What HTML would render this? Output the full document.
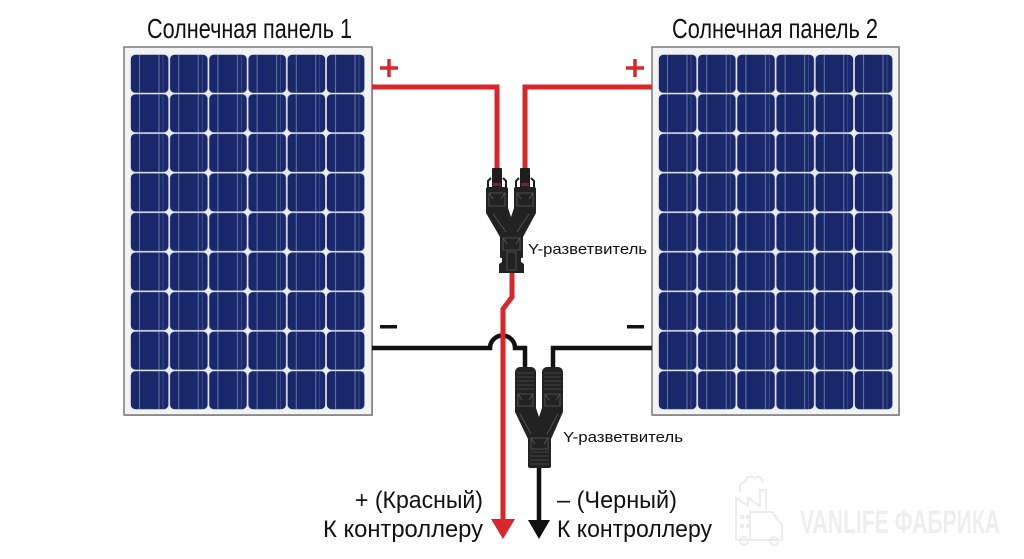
<!DOCTYPE html>
<html><head><meta charset="utf-8"><style>
html,body{margin:0;padding:0;background:#fff;}
svg{display:block;}
text{font-family:"Liberation Sans","DejaVu Sans",sans-serif;}
</style></head><body>
<svg width="1024" height="559" viewBox="0 0 1024 559" xmlns="http://www.w3.org/2000/svg">
<defs>
<pattern id="c1" patternUnits="userSpaceOnUse" x="130" y="54" width="39.2" height="39.55">
 <rect x="0.8" y="0.8" width="37.6" height="37.95" rx="4.5" fill="#19286a"/>
 <line x1="9.5" y1="1" x2="9.5" y2="38.5" stroke="#6f7fb3" stroke-width="0.9"/>
 <line x1="29" y1="1" x2="29" y2="38.5" stroke="#6f7fb3" stroke-width="0.9"/>
 <line x1="33" y1="1" x2="33" y2="38.5" stroke="#4e5f98" stroke-width="0.6"/>
</pattern>
<pattern id="c2" patternUnits="userSpaceOnUse" x="658" y="54" width="39.2" height="39.55">
 <rect x="0.8" y="0.8" width="37.6" height="37.95" rx="4.5" fill="#19286a"/>
 <line x1="9.5" y1="1" x2="9.5" y2="38.5" stroke="#6f7fb3" stroke-width="0.9"/>
 <line x1="29" y1="1" x2="29" y2="38.5" stroke="#6f7fb3" stroke-width="0.9"/>
 <line x1="33" y1="1" x2="33" y2="38.5" stroke="#4e5f98" stroke-width="0.6"/>
</pattern>
</defs>

<!-- watermark -->
<g fill="none" stroke="#ececec" stroke-width="2">
 <path d="M736,520 L736,498 L748,506 L748,498 L760,506 L760,490 L766,490 L766,510"/>
 <path d="M741,492 q-4,-8 4,-10 q2,-8 10,-4 q6,-4 8,4"/>
 <path d="M736,520 L736,540 L782,540 L782,525 L772,512 L750,512 L750,540"/>
 <circle cx="744" cy="541" r="4"/><circle cx="774" cy="541" r="4"/>
</g>
<g fill="#ececec">
 <rect x="740" y="515" width="4" height="4"/><rect x="746" y="515" width="4" height="4"/>
 <rect x="740" y="524" width="4" height="4"/><rect x="746" y="524" width="4" height="4"/>
</g>
<text x="800" y="533" font-size="32" font-weight="bold" fill="#eeeeee" textLength="200" lengthAdjust="spacingAndGlyphs">VANLIFE ФАБРИКА</text>

<!-- titles -->
<text x="147" y="38" font-size="28" fill="#111" textLength="205" lengthAdjust="spacingAndGlyphs">Солнечная панель 1</text>
<text x="672" y="38" font-size="28" fill="#111" textLength="206" lengthAdjust="spacingAndGlyphs">Солнечная панель 2</text>

<!-- panel 1 -->
<rect x="125" y="48" width="248" height="368" fill="#bdbdbd"/>
<rect x="124" y="47" width="248" height="368" fill="#f3f3f3" stroke="#7a7a7a" stroke-width="1.5"/>
<rect x="130" y="54" width="235.2" height="356" fill="#e9ecf3"/>
<rect x="130" y="54" width="235.2" height="356" fill="url(#c1)"/>

<!-- panel 2 -->
<rect x="653" y="48" width="247" height="368" fill="#bdbdbd"/>
<rect x="652" y="47" width="247" height="368" fill="#f3f3f3" stroke="#7a7a7a" stroke-width="1.5"/>
<rect x="658" y="54" width="235.2" height="356" fill="#e9ecf3"/>
<rect x="658" y="54" width="235.2" height="356" fill="url(#c2)"/>

<!-- plus / minus signs -->
<g stroke="#d9262b" stroke-width="3.5">
 <line x1="380" y1="68" x2="398" y2="68"/><line x1="389" y1="59" x2="389" y2="77"/>
 <line x1="626" y1="68" x2="644" y2="68"/><line x1="635" y1="59" x2="635" y2="77"/>
</g>
<g fill="#111">
 <rect x="380" y="325" width="17" height="3.5"/>
 <rect x="627" y="325" width="17" height="3.5"/>
</g>

<!-- red wires top -->
<g fill="none" stroke="#d9262b" stroke-width="5" stroke-linejoin="miter">
 <path d="M372,87 L497,87 L497,172"/>
 <path d="M652,87 L525,87 L525,172"/>
</g>

<!-- black wires -->
<g fill="none" stroke="#111" stroke-width="4.5" stroke-linejoin="miter">
 <path d="M372,348 L490,348 A12.5,12.5 0 0 1 515,348 L525,348 L525,372"/>
 <path d="M652,348 L553,348 L553,372"/>
 <path d="M539,464 L539,524"/>
</g>
<polygon points="528,520 550,520 539,539" fill="#111"/>

<!-- red wire down -->
<path d="M512,272 L512,297 L503,309 L503,524" fill="none" stroke="#d9262b" stroke-width="5" stroke-linejoin="miter"/>
<polygon points="491,519 515,519 503,539" fill="#d9262b"/>

<!-- top Y connector -->
<g>
 <rect x="492" y="168" width="10" height="21" rx="1" fill="#1d1d1d"/>
 <rect x="520" y="168" width="10" height="21" rx="1" fill="#1d1d1d"/>
 <rect x="493" y="183" width="8" height="3" fill="#8a1f22"/>
 <rect x="521" y="183" width="8" height="3" fill="#8a1f22"/>
 <g fill="none" stroke="#1d1d1d" stroke-width="2">
  <path d="M488,193 L488,181 L491,178"/><path d="M506,193 L506,181 L503,178"/>
  <path d="M516,193 L516,181 L519,178"/><path d="M534,193 L534,181 L531,178"/>
 </g>
 <rect x="486" y="187" width="22" height="24" rx="2" fill="#222"/>
 <rect x="514" y="187" width="22" height="24" rx="2" fill="#222"/>
 <path d="M486,208 L508,208 L511,217 L514,208 L536,208 L536,213 L523,237 L500,237 L486,213 Z" fill="#222"/>
 <rect x="500" y="234" width="23" height="24" rx="1" fill="#222"/>
 <path d="M502,256 L521,256 L521,262 L524,264 L524,273 L499,273 L499,264 L502,262 Z" fill="#222"/>
 <g fill="none" stroke="#555" stroke-width="0.9">
  <rect x="489" y="193" width="16" height="13"/><line x1="489" y1="193" x2="493" y2="199"/><line x1="505" y1="193" x2="501" y2="199"/>
  <rect x="517" y="193" width="16" height="13"/><line x1="517" y1="193" x2="521" y2="199"/><line x1="533" y1="193" x2="529" y2="199"/>
  <rect x="503" y="238" width="17" height="12"/><line x1="503" y1="238" x2="507" y2="244"/><line x1="520" y1="238" x2="516" y2="244"/>
  <rect x="507" y="252" width="9" height="18"/>
  <line x1="493" y1="214" x2="506" y2="232"/><line x1="529" y1="214" x2="517" y2="232"/>
 </g>
</g>
<text x="528" y="254" font-size="15" fill="#111" textLength="119" lengthAdjust="spacingAndGlyphs">Y-разветвитель</text>

<!-- bottom Y connector -->
<g>
 <rect x="515" y="367" width="21" height="46" rx="5" fill="#222"/>
 <rect x="542" y="367" width="21" height="46" rx="5" fill="#222"/>
 <path d="M515,408 L536,408 L539,417 L542,408 L563,408 L563,412 L551,439 L528,439 L515,412 Z" fill="#222"/>
 <rect x="528" y="435" width="23" height="33" rx="2" fill="#222"/>
 <g stroke="#444" stroke-width="1">
  <line x1="517" y1="373" x2="534" y2="373"/><line x1="517" y1="377" x2="534" y2="377"/><line x1="517" y1="381" x2="534" y2="381"/><line x1="517" y1="385" x2="534" y2="385"/><line x1="517" y1="389" x2="534" y2="389"/>
  <line x1="544" y1="373" x2="561" y2="373"/><line x1="544" y1="377" x2="561" y2="377"/><line x1="544" y1="381" x2="561" y2="381"/><line x1="544" y1="385" x2="561" y2="385"/><line x1="544" y1="389" x2="561" y2="389"/>
  <line x1="530" y1="452" x2="549" y2="452"/><line x1="530" y1="456" x2="549" y2="456"/><line x1="530" y1="460" x2="549" y2="460"/><line x1="530" y1="464" x2="549" y2="464"/>
 </g>
 <g fill="none" stroke="#555" stroke-width="0.9">
  <rect x="518" y="394" width="15" height="12"/><line x1="518" y1="394" x2="522" y2="400"/><line x1="533" y1="394" x2="529" y2="400"/>
  <rect x="545" y="394" width="15" height="12"/><line x1="545" y1="394" x2="549" y2="400"/><line x1="560" y1="394" x2="556" y2="400"/>
  <rect x="531" y="438" width="17" height="11"/><line x1="531" y1="438" x2="535" y2="444"/><line x1="548" y1="438" x2="544" y2="444"/>
  <line x1="520" y1="414" x2="531" y2="434"/><line x1="558" y1="414" x2="547" y2="434"/>
 </g>
</g>
<text x="563" y="442" font-size="15" fill="#111" textLength="120" lengthAdjust="spacingAndGlyphs">Y-разветвитель</text>

<!-- bottom labels -->
<text x="355" y="508" font-size="24" fill="#111" textLength="128" lengthAdjust="spacingAndGlyphs">+ (Красный)</text>
<text x="323" y="537" font-size="24" fill="#111" textLength="160" lengthAdjust="spacingAndGlyphs">К контроллеру</text>
<text x="557" y="508" font-size="24" fill="#111" textLength="120" lengthAdjust="spacingAndGlyphs">– (Черный)</text>
<text x="557" y="537" font-size="24" fill="#111" textLength="155" lengthAdjust="spacingAndGlyphs">К контроллеру</text>
</svg>
</body></html>
